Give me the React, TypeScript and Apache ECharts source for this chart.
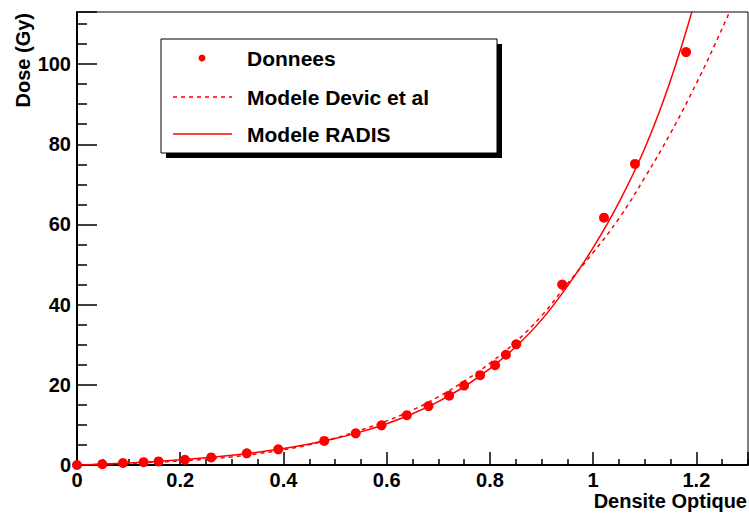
import React, { useEffect, useRef } from "react";
import * as echarts from "echarts";

// Measured data points (Densite Optique, Dose Gy)
const densite = [0, 0.049, 0.089, 0.129, 0.158, 0.209, 0.26, 0.329, 0.39, 0.479, 0.54, 0.59, 0.639, 0.681, 0.721, 0.75, 0.781, 0.81, 0.831, 0.851, 0.94, 1.021, 1.081, 1.18];
const dose = [0, 0.2, 0.5, 0.7, 0.9, 1.3, 1.9, 2.9, 3.9, 6.0, 7.9, 9.9, 12.4, 14.7, 17.3, 19.8, 22.4, 24.9, 27.5, 30.1, 45, 61.7, 75.1, 103];

// Model curves
const curveX = [0, 0.05, 0.1, 0.15, 0.2, 0.25, 0.3, 0.35, 0.4, 0.45, 0.5, 0.55, 0.6, 0.65, 0.7, 0.75, 0.8, 0.85, 0.9, 0.95, 1.0, 1.05, 1.1, 1.15, 1.2, 1.25, 1.3];
const devic = [0, 0.2, 0.42, 0.68, 1.01, 1.44, 2.02, 2.8, 3.8, 5.06, 6.7, 8.7, 11.0, 13.7, 17.0, 20.9, 25.4, 30.7, 37.2, 45.2, 53.0, 61.5, 71.7, 82.8, 95.2, 108.9, 123.8];
const radis = [0, 0.23, 0.51, 0.86, 1.28, 1.79, 2.41, 3.17, 4.09, 5.22, 6.59, 8.27, 10.31, 12.8, 15.83, 19.52, 24.03, 29.5, 36.2, 44.6, 54.2, 65.5, 79, 96, 117, 142, 172];

const legendLabels = ["Donnees", "Modele Devic et al", "Modele RADIS"];
const xTitle = "Densite Optique";
const yTitle = "Dose (Gy)";

const FONT = "'Liberation Sans', Arial, Helvetica, sans-serif";
const RED = "#ff0000";

export default function App() {
  const ref = useRef<HTMLDivElement>(null);
  useEffect(() => {
    if (!ref.current) return;
    const chart = echarts.init(ref.current, null, { renderer: "svg" });
    const labelStyle = { fontFamily: FONT, fontWeight: "bold" as const, fontSize: 20, color: "#000" };
    const option = {
      animation: false,
      backgroundColor: "#fff",
      grid: { left: 77, right: 1, top: 12, bottom: 48, show: true, borderColor: "#000", borderWidth: 1, backgroundColor: "transparent" },
      xAxis: {
        type: "value",
        min: 0,
        max: 1.3,
        interval: 0.2,
        axisLine: { show: true, onZero: false, lineStyle: { color: "#000", width: 2 } },
        axisTick: { show: true, inside: true, length: 13, lineStyle: { color: "#000", width: 1.5 } },
        minorTick: { show: true, splitNumber: 4, length: 6, lineStyle: { color: "#000", width: 1.5 } },
        splitLine: { show: false },
        axisLabel: {
          ...labelStyle,
          margin: 5,
          showMaxLabel: false,
          formatter: (v: number) => {
            const k = v / 0.2;
            return Math.abs(k - Math.round(k)) < 1e-6 ? String(+v.toFixed(1)) : "";
          },
        },
      },
      yAxis: {
        type: "value",
        min: 0,
        max: 113,
        interval: 20,
        axisLine: { show: true, onZero: false, lineStyle: { color: "#000", width: 2 } },
        axisTick: { show: true, inside: true, length: 20, lineStyle: { color: "#000", width: 1.5 } },
        minorTick: { show: true, splitNumber: 4, length: 10, lineStyle: { color: "#000", width: 1.5 } },
        splitLine: { show: false },
        axisLabel: {
          ...labelStyle,
          margin: 6,
          showMaxLabel: false,
          formatter: (v: number) => (Math.abs(v % 20) < 1e-6 ? String(v) : ""),
        },
      },
      series: [
        {
          name: legendLabels[1],
          type: "line",
          data: curveX.map((x, i) => [x, devic[i]]),
          showSymbol: false,
          symbol: "none",
          smooth: 0.4,
          clip: true,
          lineStyle: { color: RED, width: 1.5, type: [4, 4] },
          z: 2,
        },
        {
          name: legendLabels[2],
          type: "line",
          data: curveX.map((x, i) => [x, radis[i]]),
          showSymbol: false,
          symbol: "none",
          smooth: 0.4,
          clip: true,
          lineStyle: { color: RED, width: 1.5 },
          z: 3,
        },
        {
          name: legendLabels[0],
          type: "scatter",
          data: densite.map((x, i) => [x, dose[i]]),
          symbol: "circle",
          symbolSize: 10,
          itemStyle: { color: RED, opacity: 1 },
          z: 4,
        },
      ],
      graphic: [
        // y title
        {
          type: "text",
          x: 23,
          y: 13,
          rotation: Math.PI / 2,
          style: {
            text: yTitle,
            font: `bold 20px ${FONT}`,
            fill: "#000",
            align: "right",
            verticalAlign: "middle",
            textAlign: "right",
            textVerticalAlign: "middle",
          },
        },
        // x title
        {
          type: "text",
          x: 747,
          y: 501,
          style: {
            text: xTitle,
            font: `bold 20px ${FONT}`,
            fill: "#000",
            align: "right",
            verticalAlign: "middle",
            textAlign: "right",
            textVerticalAlign: "middle",
          },
        },
        // legend box shadow + box
        { type: "rect", shape: { x: 166, y: 44, width: 336, height: 114 }, style: { fill: "#000" }, z: 10 },
        { type: "rect", shape: { x: 161, y: 39, width: 336, height: 114 }, style: { fill: "#fff", stroke: "#000", lineWidth: 1 }, z: 11 },
        { type: "circle", shape: { cx: 202, cy: 58, r: 3.5 }, style: { fill: RED }, z: 12 },
        { type: "line", shape: { x1: 173, y1: 97, x2: 232, y2: 97 }, style: { stroke: RED, lineWidth: 1.5, lineDash: [4, 4] }, z: 12 },
        { type: "line", shape: { x1: 173, y1: 134, x2: 232, y2: 134 }, style: { stroke: RED, lineWidth: 1.5 }, z: 12 },
        ...legendLabels.map((t, i) => ({
          type: "text",
          x: 247,
          y: [58, 97, 134][i],
          z: 12,
          style: {
            text: t,
            font: `bold 21px ${FONT}`,
            fill: "#000",
            align: "left",
            verticalAlign: "middle",
            textAlign: "left",
            textVerticalAlign: "middle",
          },
        })),
      ],
    };
    chart.setOption(option as any);
    return () => chart.dispose();
  }, []);
  return <div ref={ref} style={{ width: 749, height: 513, position: "absolute", left: 0, top: 0 }} />;
}
